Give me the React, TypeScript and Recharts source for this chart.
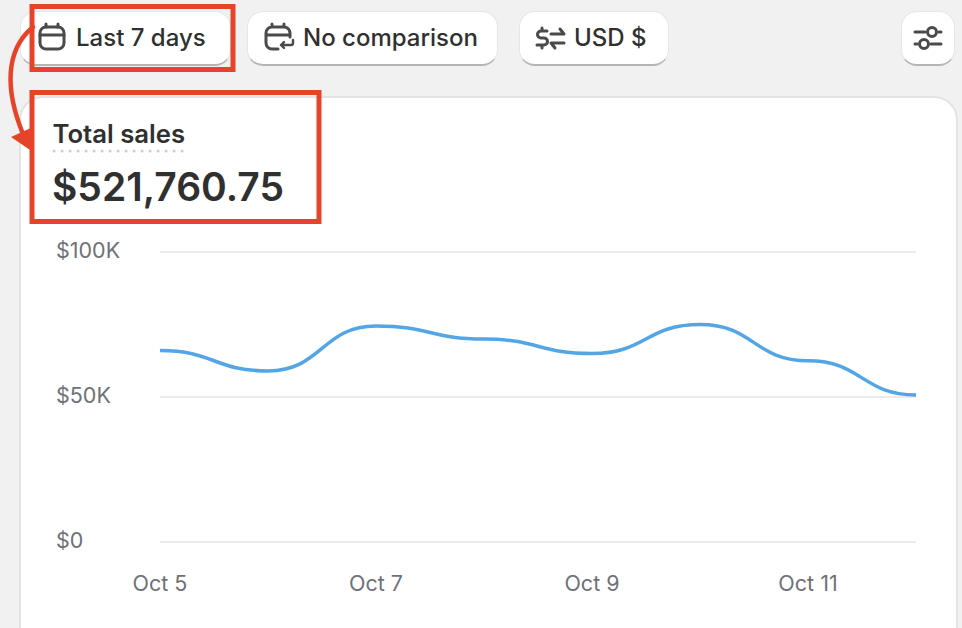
import React from "react";
import { LineChart, Line, XAxis, YAxis, CartesianGrid } from "recharts";

const days = ["Oct 5", "Oct 6", "Oct 7", "Oct 8", "Oct 9", "Oct 10", "Oct 11", "Oct 12"];
const sales = [66000, 59000, 74500, 70000, 65000, 75000, 62500, 50700];
const xTicks = ["Oct 5", "Oct 7", "Oct 9", "Oct 11"];
const yTicks = [0, 50000, 100000];

const chartData = days.map((day, i) => ({ day, sales: sales[i] }));

const FONT = "Inter, sans-serif";
const RED = "#e5442a";
const INK = "#303030";
const ICON = "#4a4a4a";

const formatMoney = (v: number) => (v === 0 ? "$0" : `$${v / 1000}K`);

const YTick = ({ y, payload }: any) => (
  <text x={56} y={y - 2} dy="0.35em" textAnchor="start" fontFamily={FONT} fontSize={21.5} fill="#6f7177">
    {formatMoney(payload.value)}
  </text>
);

const XTick = ({ x, payload }: any) => (
  <text x={x} y={583} dy="0.35em" textAnchor="middle" fontFamily={FONT} fontSize={21.5} fill="#6f7177">
    {payload.value}
  </text>
);

function Button({ left, width }: { left: number; width: number }) {
  return (
    <div
      style={{
        position: "absolute",
        left,
        top: 11,
        width,
        height: 55,
        boxSizing: "border-box",
        background: "#fff",
        borderRadius: 16,
        border: "1px solid #e6e6e6",
        borderBottom: "2px solid #b5b5b5",
      }}
    />
  );
}

function Label({ left, top, size, weight, children }: any) {
  return (
    <div
      style={{
        position: "absolute",
        left,
        top,
        fontFamily: FONT,
        fontSize: size,
        fontWeight: weight,
        color: INK,
        lineHeight: 1,
        whiteSpace: "nowrap",
      }}
    >
      {children}
    </div>
  );
}

export default function App() {
  return (
    <div
      style={{
        position: "absolute",
        left: 0,
        top: 0,
        width: 962,
        height: 628,
        background: "#f1f1f1",
        overflow: "hidden",
      }}
    >
      {/* card */}
      <div
        style={{
          position: "absolute",
          left: 19,
          top: 96,
          width: 939,
          height: 560,
          boxSizing: "border-box",
          background: "#fff",
          border: "2px solid #e3e3e3",
          borderRadius: 24,
        }}
      />

      <Button left={20} width={211} />
      <Button left={247} width={251} />
      <Button left={519} width={150} />
      <Button left={901} width={54} />

      <Label left={76} top={26} size={24} weight={500}>Last 7 days</Label>
      <Label left={303} top={26} size={24} weight={500}>No comparison</Label>
      <Label left={574} top={26} size={24} weight={500}>USD $</Label>
      <Label left={52.5} top={121} size={25.7} weight={600}>Total sales</Label>
      <Label left={52} top={167} size={39} weight={600}>$521,760.75</Label>

      <div style={{ position: "absolute", left: 0, top: 0 }}>
        <LineChart width={962} height={628} data={chartData} margin={{ top: 252, right: 46, bottom: 0, left: 0 }}>
          <CartesianGrid vertical={false} stroke="#ebebeb" strokeWidth={2} />
          <XAxis
            dataKey="day"
            ticks={xTicks}
            interval={0}
            height={86}
            axisLine={false}
            tickLine={false}
            tick={<XTick />}
          />
          <YAxis
            domain={[0, 100000]}
            ticks={yTicks}
            width={160}
            axisLine={false}
            tickLine={false}
            tick={<YTick />}
          />
          <Line
            type="bumpX"
            dataKey="sales"
            stroke="#52a6e6"
            strokeWidth={3.5}
            dot={false}
            isAnimationActive={false}
          />
        </LineChart>
      </div>

      {/* icons, dotted underline and the red callouts */}
      <svg width={962} height={628} style={{ position: "absolute", left: 0, top: 0 }}>
        <line x1={54} y1={151} x2={186} y2={151} stroke="#cfcfcf" strokeWidth={3} strokeLinecap="round" strokeDasharray="0.1 7.9" />

        <g fill="none" stroke={ICON} strokeWidth={3} strokeLinecap="round" strokeLinejoin="round">
          <rect x={40} y={27} width={24} height={22} rx={6} />
          <path d="M40 35h24M46 24v3M58 24v3" />

          <path d="M278 49h-6a6 6 0 0 1-6-6V33a6 6 0 0 1 6-6h12a6 6 0 0 1 6 6v4M266 35h24M272 24v3M284 24v3" />
          <path d="M293 40v3a2 2 0 0 1-2 2h-10l3-3M281 45l3 3" strokeWidth={2.4} />

          <path d="M547 31h-6a3.5 3.5 0 0 0 0 7h3a3.5 3.5 0 0 1 0 7h-7M542 28v3M542 45v3" />
          <path d="M551 34h13l-4-5M564 43h-13l4 5" />

          <path d="M915 32h10M939 32h2M915 44h2M931 44h10" />
          <circle cx={932} cy={32} r={4.5} />
          <circle cx={924} cy={44} r={4.5} />
        </g>

        <g fill="none" stroke={RED} strokeWidth={5}>
          <rect x={32} y={6.5} width={201} height={63} />
          <rect x={32} y={92.5} width={287} height={129} />
          <path d="M33 27C5 50 5 90 23 134" strokeWidth={4.5} strokeLinecap="round" />
        </g>
        <path d="M11 137L33 127V152Z" fill={RED} />
      </svg>
    </div>
  );
}
